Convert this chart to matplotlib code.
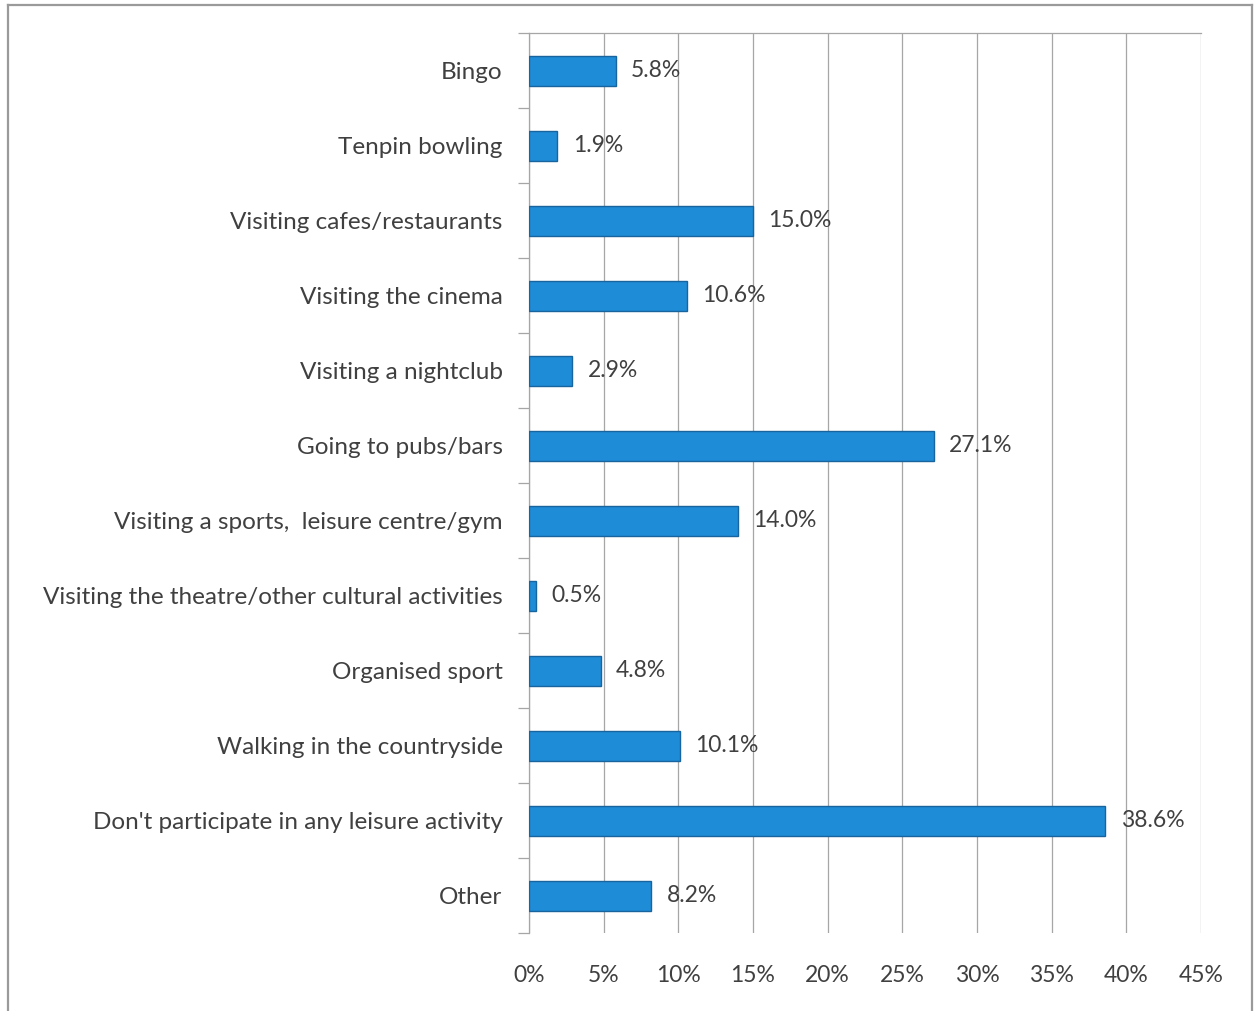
import matplotlib
matplotlib.use("Agg")
import matplotlib.pyplot as plt
from matplotlib.lines import Line2D
from matplotlib.ticker import FixedLocator, PercentFormatter

# Leisure activities, top to bottom
activities = [
    "Bingo",
    "Tenpin bowling",
    "Visiting cafes/restaurants",
    "Visiting the cinema",
    "Visiting a nightclub",
    "Going to pubs/bars",
    "Visiting a sports,  leisure centre/gym",
    "Visiting the theatre/other cultural activities",
    "Organised sport",
    "Walking in the countryside",
    "Don't participate in any leisure activity",
    "Other",
]
shares = [5.8, 1.9, 15.0, 10.6, 2.9, 27.1, 14.0, 0.5, 4.8, 10.1, 38.6, 8.2]
x_ticks = [0, 5, 10, 15, 20, 25, 30, 35, 40, 45]

text_col = "#404040"
grid_col = "#a6a6a6"
bar_col = "#1f8cd8"
edge_col = "#17649e"

plt.rcParams["font.family"] = ["Lato", "DejaVu Sans"]

W, H = 1258, 1011
fig = plt.figure(figsize=(W / 100, H / 100), dpi=100)
ax = fig.add_axes([529 / W, 1 - 933 / H, (1201 - 529) / W, (933 - 33) / H])

n = len(activities)
ypos = list(range(n))
ax.barh(ypos, shares, height=0.4, color=bar_col, edgecolor=edge_col,
        linewidth=1.0, zorder=3)

for y, v in zip(ypos, shares):
    ax.annotate(f"{v:.1f}%", (v, y), xytext=(11, 0), textcoords="offset points",
                ha="left", va="center", fontsize=16.5, color=text_col, zorder=4)

ax.set_xlim(0, 45)
ax.set_ylim(n - 0.5, -0.5)
ax.set_xticks(x_ticks)
ax.xaxis.set_major_formatter(PercentFormatter(decimals=0))
ax.grid(axis="x", color=grid_col, linewidth=0.9, zorder=0)

# category labels sit at bar centres, tick marks at category boundaries
ax.set_yticks(ypos)
ax.set_yticklabels(activities)
ax.yaxis.set_minor_locator(FixedLocator([i - 0.5 for i in range(n + 1)]))
ax.tick_params(axis="y", which="major", length=0, pad=19, labelsize=17.5,
               labelcolor=text_col)
ax.tick_params(axis="y", which="minor", length=8, color=grid_col, width=0.9)
ax.tick_params(axis="x", length=0, pad=23, labelsize=16.5, labelcolor=text_col)

for side in ["right", "bottom"]:
    ax.spines[side].set_visible(False)
ax.spines["left"].set_color(grid_col)
ax.spines["top"].set_color(grid_col)
ax.spines["left"].set_linewidth(0.9)
ax.spines["top"].set_linewidth(0.9)

# outer chart border
bx0, bx1, by1 = 8 / W, 1252 / W, 1 - 5 / H
for xs, ys in [([bx0, bx0], [0, by1]), ([bx0, bx1], [by1, by1]), ([bx1, bx1], [0, by1])]:
    fig.add_artist(Line2D(xs, ys, color="#9a9a9a", linewidth=1.6,
                          transform=fig.transFigure))

fig.savefig("out.png", dpi=100)
